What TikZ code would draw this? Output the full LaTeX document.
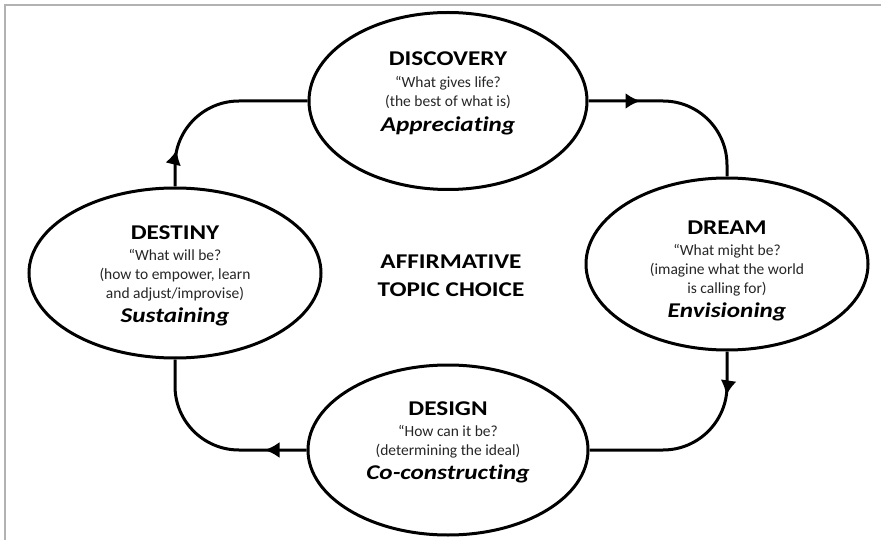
\documentclass[tikz,border=0pt]{standalone}
\usepackage{fontspec}
\setmainfont{Carlito}[Ligatures={TeX,NoCommon}]
\newfontfamily\headfont{Carlito}[FakeStretch=1.2, Ligatures={TeX,NoCommon}]
\usetikzlibrary{shapes.geometric,arrows.meta,decorations.markings}
\tikzset{
	phase/.style={draw, ellipse, line width=3pt, inner sep=0pt},
	phasetext/.style={align=center, font=\fontsize{15.5}{19}\selectfont, text=black!85},
	flow/.style={line width=3pt, rounded corners=64pt, postaction={decorate},
		decoration={markings, mark=at position #1 with {\arrow{Latex[length=15pt,width=16pt]}}}},
}
\newcommand{\phasetitle}[1]{{\headfont\fontsize{21}{24}\selectfont\bfseries\color{black}#1}}
\newcommand{\phaseverb}[1]{{\headfont\fontsize{21}{24}\selectfont\bfseries\itshape\color{black}#1}}

\begin{document}
\begin{tikzpicture}[x=1pt, y=-1pt]
		%%%%% START %%%%%
		\useasboundingbox (0, 0) rectangle (881, 540);
		
		\draw[line width=2pt, color=gray!60] (5, 540) -- (5, 5) -- (881, 5);
		
		\node[phase, minimum width=278pt, minimum height=177pt] (disc) at (448, 101) {};
		\node[phase, minimum width=282pt, minimum height=172pt] (dream) at (727, 264) {};
		\node[phase, minimum width=280pt, minimum height=170pt] (design) at (448, 450) {};
		\node[phase, minimum width=292pt, minimum height=170pt] (destiny) at (175, 273) {};
		
		\node[phasetext] (disctext) at (448, 93) {\phasetitle{DISCOVERY}\\[3pt]“What gives life?\\(the best of what is)\\[6pt]\phaseverb{Appreciating}};
		\node[phasetext] (dreamtext) at (727, 271) {\phasetitle{DREAM}\\[2pt]“What might be?\\(imagine what the world\\is calling for)\\[5pt]\phaseverb{Envisioning}};
		\node[phasetext] (designtext) at (448, 442) {\phasetitle{DESIGN}\\[2pt]“How can it be?\\(determining the ideal)\\[5pt]\phaseverb{Co-constructing}};
		\node[phasetext] (destinytext) at (175, 276) {\phasetitle{DESTINY}\\[2pt]“What will be?\\(how to empower, learn\\and adjust/improvise)\\[5pt]\phaseverb{Sustaining}};
		
		\node[align=center, font=\headfont\fontsize{21}{28}\selectfont\bfseries] (topic) at (451, 276) {AFFIRMATIVE\\TOPIC CHOICE};
		
		\draw[flow=52pt] (disc.east) -| (dream.north);
		\draw[flow=44pt] (dream.south) |- (design.east);
		\draw[flow=42pt] (design.west) -| (destiny.south);
		\draw[flow=37pt] (destiny.north) |- (disc.west);
		%%%%% END %%%%%
\end{tikzpicture}
\end{document}
